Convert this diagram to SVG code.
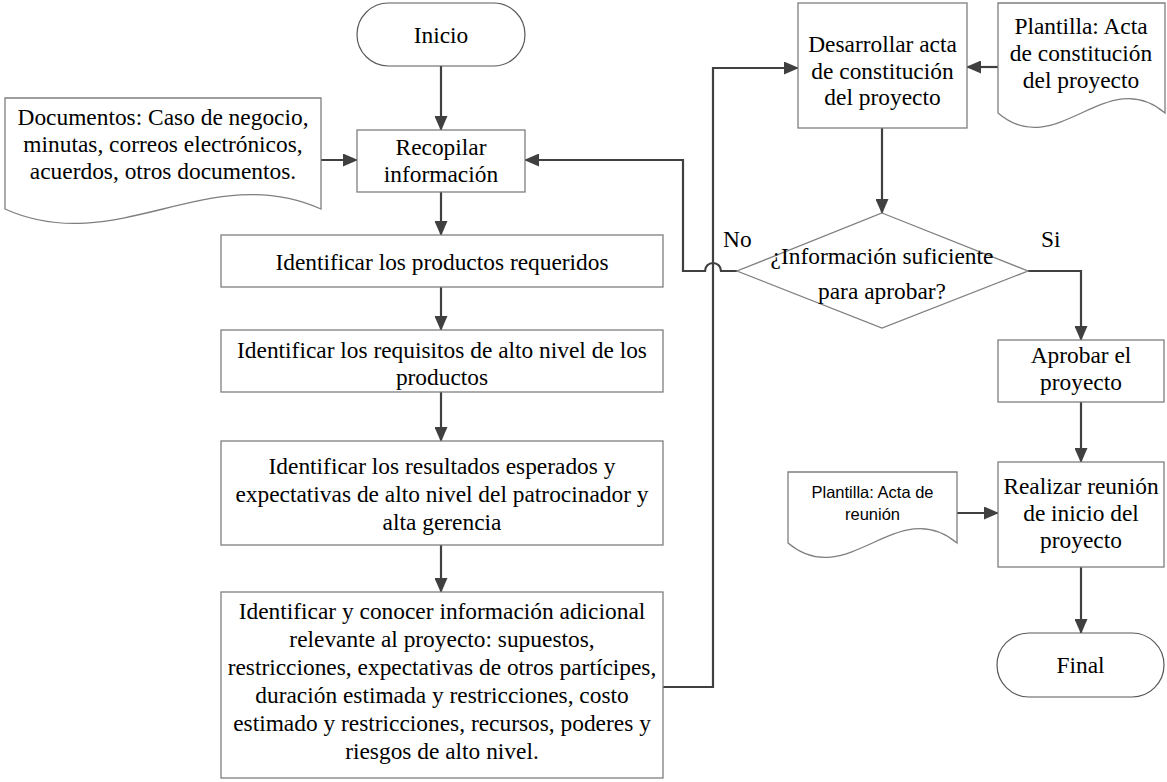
<svg xmlns="http://www.w3.org/2000/svg" width="1167" height="782" viewBox="0 0 1167 782">
  <style>
    .box { fill: #ffffff; stroke: #7f7f7f; stroke-width: 1.3; }
    .term { fill: #ffffff; stroke: #595959; stroke-width: 1.2; }
    .conn-a { fill: none; stroke: #404040; stroke-width: 2.2; marker-end: url(#arrow); }
    .t { font-family: 'Liberation Serif', 'Times New Roman', serif; font-size: 23.4px; fill: #000000; text-anchor: middle; }
    .lbl { font-family: 'Liberation Serif', 'Times New Roman', serif; font-size: 23.4px; fill: #000000; }
    .s { font-family: 'Liberation Sans', Arial, sans-serif; font-size: 16.5px; fill: #000000; text-anchor: middle; }
  </style>
  <defs>
    <marker id="arrow" viewBox="0 0 15 13" markerUnits="userSpaceOnUse" markerWidth="15" markerHeight="13" refX="14" refY="6.5" orient="auto">
      <path d="M0,0 L15,6.5 L0,13 Z" fill="#404040"/>
    </marker>
  </defs>

  <rect width="1167" height="782" fill="#ffffff"/>

  <!-- connectors -->
  <g id="connectors">
    <path class="conn-a" d="M441,66 V130"/>
    <path class="conn-a" d="M321,160 H357"/>
    <path class="conn-a" d="M441,192 V235"/>
    <path class="conn-a" d="M441,287 V330"/>
    <path class="conn-a" d="M441,392 V441"/>
    <path class="conn-a" d="M441,545 V592"/>
    <path class="conn-a" d="M663,687 H713 V68 H798"/>
    <path class="conn-a" d="M998,67 H967"/>
    <path class="conn-a" d="M882,128 V213"/>
    <path class="conn-a" d="M737,271 H721 A8,8 0 0 0 705,271 H683 V160 H525"/>
    <path class="conn-a" d="M1028,271 H1081 V340"/>
    <path class="conn-a" d="M1081,402 V462"/>
    <path class="conn-a" d="M957,513 H998"/>
    <path class="conn-a" d="M1081,567 V633"/>
    <text class="lbl" x="723" y="247">No</text>
    <text class="lbl" x="1041" y="247">Si</text>
  </g>

  <!-- start -->
  <g id="inicio">
    <rect class="term" x="357" y="3" width="168" height="63" rx="31.5" ry="31.5"/>
    <text class="t" x="441" y="43">Inicio</text>
  </g>

  <!-- input documents -->
  <g id="documentos">
    <path class="box" d="M5,98 H321 V209 C210,159 116,259 5,209 Z"/>
    <text class="t" x="163" y="125">Documentos: Caso de negocio,</text>
    <text class="t" x="163" y="152">minutas, correos electrónicos,</text>
    <text class="t" x="163" y="179">acuerdos, otros documentos.</text>
  </g>

  <g id="recopilar">
    <rect class="box" x="357" y="130" width="168" height="62"/>
    <text class="t" x="441" y="155">Recopilar</text>
    <text class="t" x="441" y="182">información</text>
  </g>

  <g id="productos">
    <rect class="box" x="221" y="235" width="442" height="52"/>
    <text class="t" x="442" y="270">Identificar los productos requeridos</text>
  </g>

  <g id="requisitos">
    <rect class="box" x="221" y="330" width="442" height="62"/>
    <text class="t" x="442" y="358">Identificar los requisitos de alto nivel de los</text>
    <text class="t" x="442" y="385">productos</text>
  </g>

  <g id="resultados">
    <rect class="box" x="221" y="441" width="442" height="104"/>
    <text class="t" x="442" y="474">Identificar los resultados esperados y</text>
    <text class="t" x="442" y="502">expectativas de alto nivel del patrocinador y</text>
    <text class="t" x="442" y="530">alta gerencia</text>
  </g>

  <g id="informacion-adicional">
    <rect class="box" x="221" y="592" width="442" height="186"/>
    <text class="t" x="442" y="619">Identificar y conocer información adicional</text>
    <text class="t" x="442" y="647">relevante al proyecto: supuestos,</text>
    <text class="t" x="442" y="675">restricciones, expectativas de otros partícipes,</text>
    <text class="t" x="442" y="703">duración estimada y restricciones, costo</text>
    <text class="t" x="442" y="731">estimado y restricciones, recursos, poderes y</text>
    <text class="t" x="442" y="759">riesgos de alto nivel.</text>
  </g>

  <g id="desarrollar">
    <rect class="box" x="798" y="3" width="169" height="125"/>
    <text class="t" x="882.5" y="52">Desarrollar acta</text>
    <text class="t" x="882.5" y="79">de constitución</text>
    <text class="t" x="882.5" y="105">del proyecto</text>
  </g>

  <g id="plantilla-acta">
    <path class="box" d="M998,3 H1165 V113 C1107,63 1056,163 998,113 Z"/>
    <text class="t" x="1081" y="34">Plantilla: Acta</text>
    <text class="t" x="1081" y="61">de constitución</text>
    <text class="t" x="1081" y="88">del proyecto</text>
  </g>

  <g id="decision">
    <polygon class="box" points="882,213 1028,271 882,328 737,271"/>
    <text class="t" x="882" y="264">¿Información suficiente</text>
    <text class="t" x="882" y="299">para aprobar?</text>
  </g>

  <g id="aprobar">
    <rect class="box" x="998" y="340" width="166" height="62"/>
    <text class="t" x="1081" y="363">Aprobar el</text>
    <text class="t" x="1081" y="390">proyecto</text>
  </g>

  <g id="plantilla-reunion">
    <path class="box" d="M788,472 H957 V543 C898,493 847,593 788,543 Z"/>
    <text class="s" x="872.5" y="498">Plantilla: Acta de</text>
    <text class="s" x="872.5" y="520">reunión</text>
  </g>

  <g id="reunion">
    <rect class="box" x="998" y="462" width="166" height="105"/>
    <text class="t" x="1081" y="494">Realizar reunión</text>
    <text class="t" x="1081" y="521">de inicio del</text>
    <text class="t" x="1081" y="548">proyecto</text>
  </g>

  <!-- end -->
  <g id="final">
    <rect class="term" x="997" y="633" width="167" height="64" rx="32" ry="32"/>
    <text class="t" x="1080.5" y="673">Final</text>
  </g>
</svg>
